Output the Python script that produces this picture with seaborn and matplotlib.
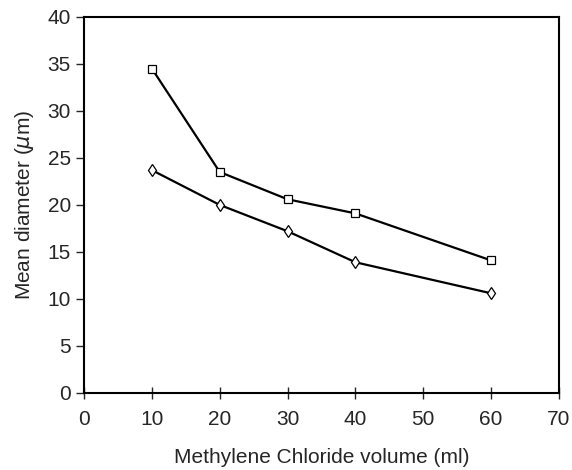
import matplotlib
matplotlib.use("Agg")
import matplotlib.pyplot as plt
import seaborn as sns
import pandas as pd

volume = [10, 20, 30, 40, 60]
diam_square = [34.5, 23.5, 20.6, 19.1, 14.1]
diam_diamond = [23.7, 20.0, 17.2, 13.9, 10.6]

df = pd.DataFrame({
    "volume": volume * 2,
    "diameter": diam_square + diam_diamond,
    "series": ["A"] * len(volume) + ["B"] * len(volume),
})

sns.set_style("ticks")
plt.rcParams["font.family"] = ["Liberation Sans", "DejaVu Sans"]

fig = plt.figure(figsize=(5.72, 4.7), dpi=100)
ax = fig.add_axes([0.147, 0.164, 0.83, 0.8])

sns.lineplot(data=df, x="volume", y="diameter", hue="series", style="series",
    markers={"A": "s", "B": "d"}, dashes=False,
    palette={"A": "black", "B": "black"},
    markersize=6, markerfacecolor="white", markeredgecolor="black",
    markeredgewidth=0.9, linewidth=1.6, legend=False, ax=ax)

ax.set_xlim(0, 70)
ax.set_ylim(0, 40)
ax.set_xticks(range(0, 71, 10))
ax.set_yticks(range(0, 41, 5))
for s in ax.spines.values():
    s.set_visible(True)
    s.set_linewidth(1.5)
    s.set_color("black")
ax.tick_params(axis="y", direction="out", length=6, width=1, labelsize=15)
ax.tick_params(axis="x", direction="inout", length=8, width=1, labelsize=15, pad=8)

ax.set_xlabel("Methylene Chloride volume (ml)", fontsize=15, labelpad=14)
ax.set_ylabel("Mean diameter ($\\mu$m)", fontsize=15, labelpad=8)

fig.savefig("out.png", dpi=100)
